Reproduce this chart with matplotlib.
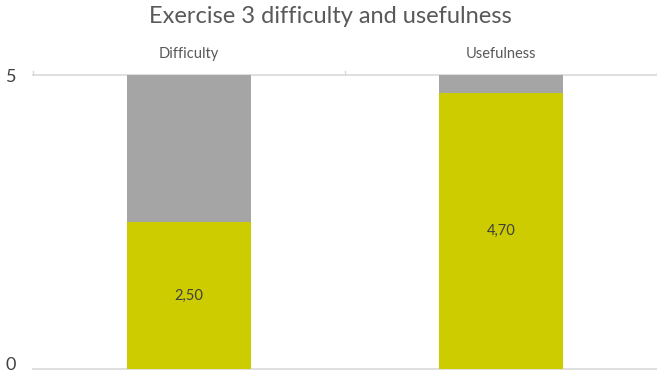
import matplotlib
matplotlib.use("Agg")
import matplotlib.pyplot as plt
import matplotlib.transforms as mtransforms
import numpy as np

plt.rcParams['font.family'] = ['Lato', 'DejaVu Sans']

title = "Exercise 3 difficulty and usefulness"
categories = ["Difficulty", "Usefulness"]
scores = [2.50, 4.70]
scale_max = 5
value_labels = ["2,50", "4,70"]
y_ticks = [0, 5]

remainder = [scale_max - s for s in scores]

fig = plt.figure(figsize=(6.57, 3.72), dpi=100)
ax = fig.add_axes([33 / 657, 3 / 372, 624 / 657, 294 / 372])

x = np.arange(len(categories))
ax.bar(x, scores, width=0.4, color="#CCCC00", zorder=3)
ax.bar(x, remainder, bottom=scores, width=0.4, color="#A5A5A5", zorder=3)

for xi, s, lab in zip(x, scores, value_labels):
    ax.text(xi, s / 2, lab, ha="center", va="center", fontsize=10.5, color="#404040", zorder=4)

ax.set_xlim(-0.5, len(categories) - 0.5)
ax.set_ylim(0, scale_max)

# category axis drawn along the top
ax.xaxis.tick_top()
ax.set_xticks(x)
ax.set_xticklabels(categories, fontsize=10.5, color="#595959")
ax.tick_params(axis="x", length=0, pad=10)
for b in np.arange(-0.5, len(categories)):
    ax.plot([b, b], [scale_max, scale_max * 1.015], color="#D9D9D9", lw=1,
            clip_on=False, zorder=2)

ax.set_yticks(y_ticks)
ax.set_yticklabels([str(t) for t in y_ticks], fontsize=13, color="#404040")
ax.tick_params(axis="y", length=0, pad=12)

# lift the bottom tick label slightly so it stays inside the canvas
fig.canvas.draw()
zero_label = ax.get_yticklabels()[0]
zero_label.set_transform(zero_label.get_transform() +
                         mtransforms.ScaledTranslation(0, 4 / 72, fig.dpi_scale_trans))

for side in ["left", "right"]:
    ax.spines[side].set_visible(False)
ax.spines["top"].set_color("#D9D9D9")
ax.spines["bottom"].set_color("#D9D9D9")
ax.spines["top"].set_linewidth(1.2)
ax.spines["bottom"].set_linewidth(1.2)

fig.text(0.503, 0.955, title, ha="center", va="center", fontsize=17, color="#595959")

fig.savefig("out.png", dpi=100)
